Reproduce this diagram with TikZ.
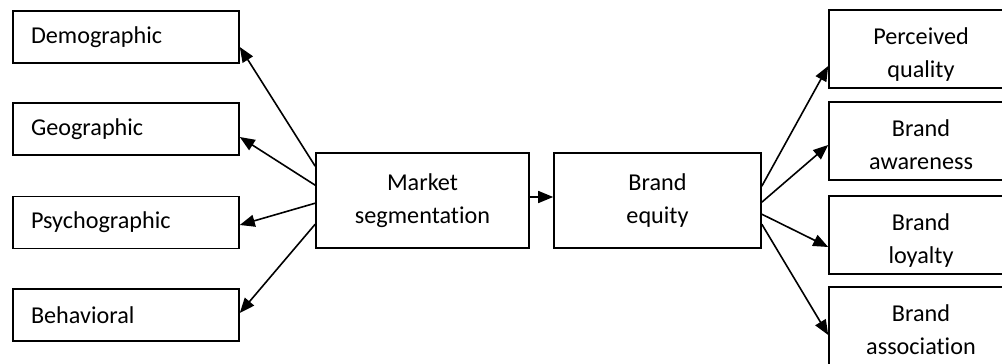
\documentclass[tikz,border=0pt]{standalone}
\usepackage{fontspec}
\setmainfont[Ligatures={NoCommon}]{Carlito}
\usetikzlibrary{arrows.meta,calc}
\newcommand\lowtxt[1]{\raisebox{-5pt}[\height][\depth]{\begin{tabular}{@{}c@{}}#1\end{tabular}}}
\begin{document}
\begin{tikzpicture}[x=1pt,y=-1pt,
  box/.style={draw=black,line width=1.6pt,rectangle,inner sep=0pt,font=\fontsize{24.2}{33}\selectfont},
  leftbox/.style={box,minimum height=52pt,text width=190pt,inner xsep=18pt,align=left},
  midbox/.style={box,minimum height=95pt,align=center},
  rightbox/.style={box,minimum width=184pt,minimum height=78pt},
  arr/.style={line width=1.6pt,-{Triangle[length=15pt,width=12pt]}}]
\useasboundingbox (0,0) rectangle (1002,364);
\clip (0,0) rectangle (1002,364);
\fill[white] (0,0) rectangle (1002,364);
% left boxes
\node[leftbox] (dem) at (126,37) {Demographic};
\node[leftbox] (geo) at (126,129) {Geographic};
\node[leftbox] (psy) at (126,222.5) {Psychographic};
\node[leftbox] (beh) at (126,315) {Behavioral};
% middle
\node[midbox,minimum width=213pt] (ms) at (422.5,200.5) {Market\\segmentation};
\node[midbox,minimum width=207pt] (be) at (657.5,200.5) {Brand\\equity};
% right
\node[rightbox] (pq) at (921,49) {\lowtxt{Perceived\\quality}};
\node[rightbox] (ba) at (921,141) {\lowtxt{Brand\\awareness}};
\node[rightbox] (bl) at (921,235) {\lowtxt{Brand\\loyalty}};
\node[rightbox] (bas) at (921,326) {\lowtxt{Brand\\association}};
% arrows left
\draw[arr] ($(ms.north west)+(0,14)$) -- ($(dem.east)+(0,10)$);
\draw[arr] ($(ms.north west)+(0,33)$) -- ($(geo.east)+(0,8)$);
\draw[arr] ($(ms.north west)+(0,51)$) -- ($(psy.east)+(0,2.5)$);
\draw[arr] ($(ms.north west)+(0,72)$) -- ($(beh.east)+(0,-2)$);
% middle arrow
\draw[arr] ($(ms.east)+(0,-3.5)$) -- ($(be.west)+(0,-3.5)$);
% arrows right
\draw[arr] ($(be.north east)+(0,34)$) -- ($(pq.west)+(0,17)$);
\draw[arr] ($(be.north east)+(0,50)$) -- ($(ba.west)+(0,4)$);
\draw[arr] ($(be.north east)+(0,62)$) -- ($(bl.west)+(0,12)$);
\draw[arr] ($(be.north east)+(0,72)$) -- ($(bas.west)+(0,9)$);
\end{tikzpicture}
\end{document}
